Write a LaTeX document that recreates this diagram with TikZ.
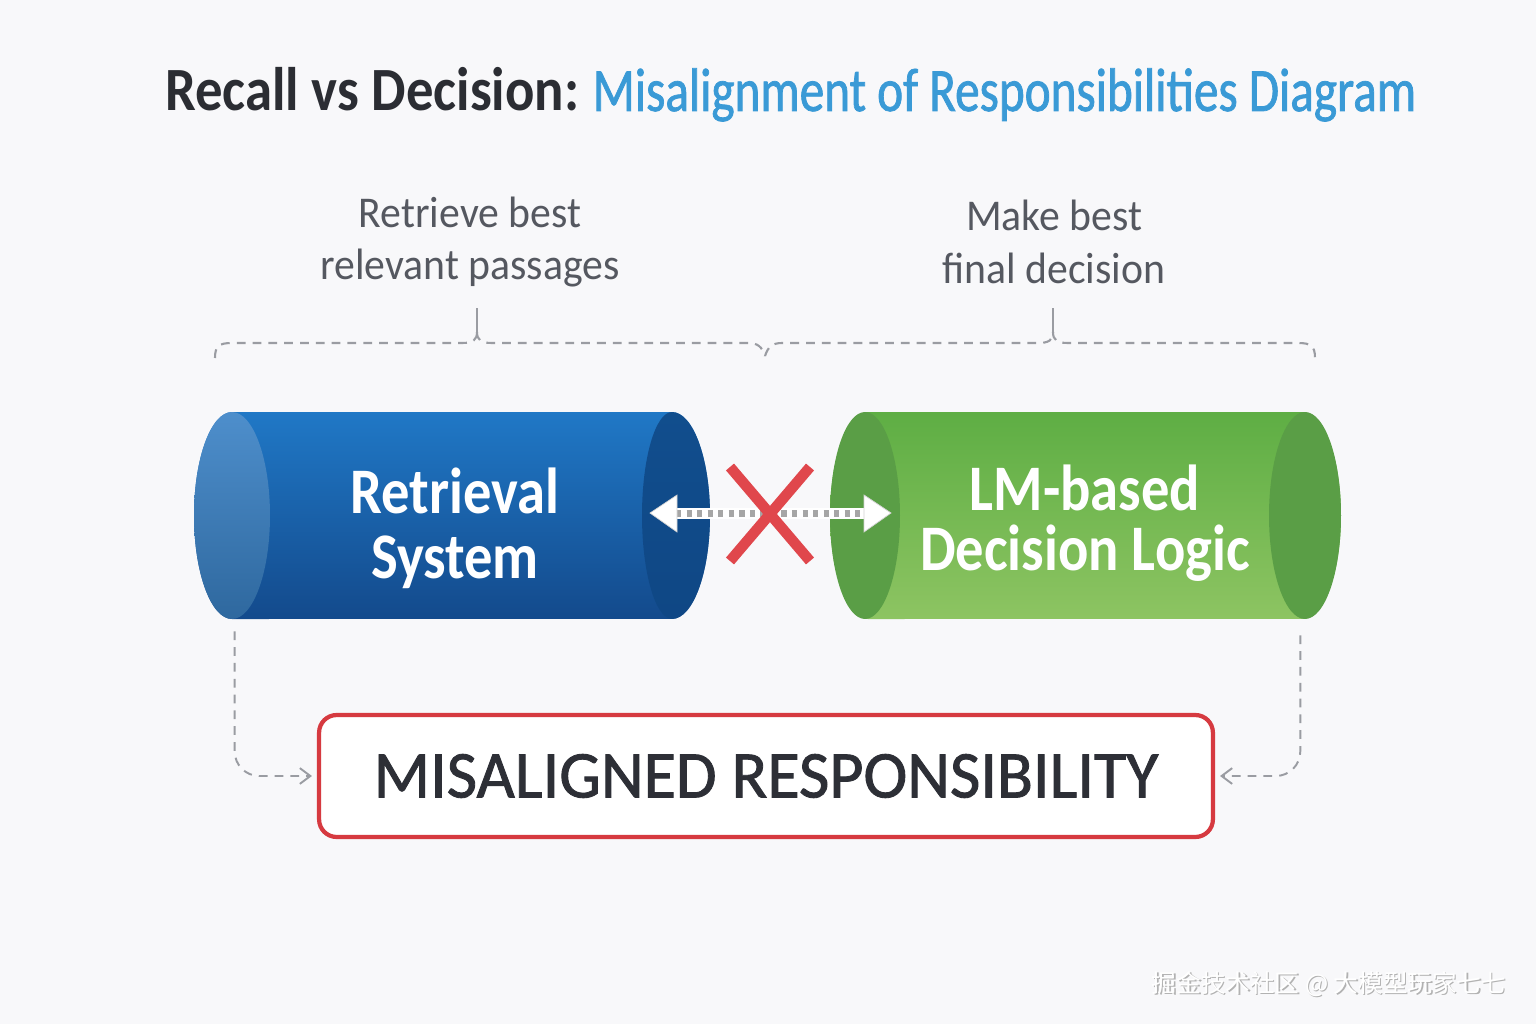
\documentclass[tikz,border=0pt]{standalone}
\usepackage{fontspec}
\setmainfont{Carlito}
\newfontfamily\titlefont[FakeStretch=0.89]{Carlito}
\newfontfamily\titlebluefont[FakeStretch=0.80,FakeBold=1.2]{Carlito}
\newfontfamily\lblfont[FakeStretch=0.95]{Carlito}
\newfontfamily\cylfont[FakeStretch=0.87]{Carlito}
\newfontfamily\misfont[FakeStretch=0.99,FakeBold=1.3]{Carlito}
\newfontfamily\cjkfont{Noto Sans CJK SC}
\usetikzlibrary{arrows.meta}
\definecolor{bgc}{HTML}{F8F8FA}
\definecolor{titledark}{HTML}{2B2D33}
\definecolor{titleblue}{HTML}{3A9AD6}
\definecolor{lblgray}{HTML}{555860}
\definecolor{dashgray}{HTML}{9A9CA2}
\definecolor{bluetop}{HTML}{2078C6}
\definecolor{bluebot}{HTML}{134A8C}
\definecolor{blueface}{HTML}{3A82C6}
\definecolor{blueend}{HTML}{0F4784}
\definecolor{greentop}{HTML}{5EAE44}
\definecolor{greenbot}{HTML}{8DC462}
\definecolor{greenface}{HTML}{5A9E46}
\definecolor{redx}{HTML}{E0474C}
\definecolor{redbox}{HTML}{D63A40}
\definecolor{textdark}{HTML}{2D2F36}
\tikzset{
  lbl/.style={font=\lblfont\fontsize{25}{30}\selectfont, text=lblgray, align=center},
  cyltext/.style={font=\cylfont\bfseries\fontsize{37}{37}\selectfont, text=white, align=center},
  bracepath/.style={draw=dashgray, line width=1.2pt, dash pattern=on 5pt off 4pt},
  connpath/.style={draw=dashgray, line width=1.1pt, dash pattern=on 5pt off 4pt, rounded corners=14pt},
  conntip/.style={-{Straight Barb[length=6pt,width=9pt,line width=1.1pt]}},
  cylframe/.style={minimum width=#1, minimum height=4.14cm, inner sep=0pt},
}
\begin{document}
\begin{tikzpicture}[x=0.02cm,y=-0.02cm]
\fill[bgc] (0,0) rectangle (1536,1024);
\useasboundingbox (0,0) rectangle (1536,1024);

% title
\node[anchor=base west, inner sep=0pt, font=\fontsize{35}{40}\selectfont] (title) at (165,111)
  {\textcolor{titledark}{\titlefont\bfseries Recall vs Decision:}\hspace{0.22em}\textcolor{titleblue}{\titlebluefont Misalignment of Responsibilities Diagram}};

% labels
\node[lbl] (lblL) at (470,242) {Retrieve best\\relevant passages};
\node[lbl] (lblR) at (1054,242) {Make best\\final decision};

% braces
\draw[bracepath] (215,358) .. controls (215,346) and (219,343) .. (232,343) -- (462,343)
   .. controls (473,343) and (477,340) .. (477,332);
\draw[bracepath] (477,332) .. controls (477,340) and (481,343) .. (492,343) -- (748,343)
   .. controls (758,343) and (762,347) .. (765,356);
\draw[bracepath] (765,356) .. controls (768,347) and (772,343) .. (782,343) -- (1038,343)
   .. controls (1049,343) and (1053,340) .. (1053,332);
\draw[bracepath] (1053,332) .. controls (1053,340) and (1057,343) .. (1068,343) -- (1298,343)
   .. controls (1311,343) and (1315,346) .. (1315,358);
\draw[dashgray, line width=1.2pt] (477,332) -- (477,308);
\draw[dashgray, line width=1.2pt] (1053,332) -- (1053,308);

% blue cylinder
\node[cylframe=10.34cm] (ret) at (451.5,515.5) {};
\shade[top color=bluetop, bottom color=bluebot]
  (232,412) -- (672,412) arc[start angle=90, end angle=-90, x radius=0.76cm, y radius=2.07cm]
  -- (232,619) arc[start angle=270, end angle=90, x radius=0.76cm, y radius=2.07cm] -- cycle;
\fill[blueend, opacity=0.85] (672,412) arc[start angle=90, end angle=-90, x radius=0.76cm, y radius=2.07cm]
  arc[start angle=-90, end angle=-270, x radius=0.6cm, y radius=2.07cm] -- cycle;
\shade[top color=blueface!90!white, bottom color=blueface!80!black]
  (232,515.5) ellipse[x radius=0.76cm, y radius=2.07cm];
\node[cyltext] (retT) at (455,528) {Retrieval\\System};

% green cylinder
\node[cylframe=10.22cm] (lm) at (1085.5,515.5) {};
\shade[top color=greentop, bottom color=greenbot]
  (868,412) -- (1303,412) arc[start angle=90, end angle=-90, x radius=0.76cm, y radius=2.07cm]
  -- (868,619) arc[start angle=270, end angle=90, x radius=0.76cm, y radius=2.07cm] -- cycle;
\fill[greenface] (1305,515.5) ellipse[x radius=0.72cm, y radius=2.07cm];
\fill[greenface] (865,515.5) ellipse[x radius=0.7cm, y radius=2.07cm];
\node[cyltext] (lmT) at (1085,523) {LM-based\\[-0.1cm]Decision Logic};

% double arrow between
\coordinate (aL) at (650,513);
\coordinate (aR) at (891,513);
\fill[white] (672,508) rectangle (868,519);
\draw[gray!70, line width=3.5pt, dash pattern=on 3pt off 3pt] (676,513.5) -- (866,513.5);
\fill[white, draw=gray!35, line width=0.4pt] (aL) -- (677,495) -- (677,532) -- cycle;
\fill[white, draw=gray!35, line width=0.4pt] (aR) -- (864,495) -- (864,532) -- cycle;

% red X
\node[minimum size=2cm, inner sep=0pt] (cross) at (770,514) {};
\draw[redx, line width=6pt] (730,467) -- (810,561);
\draw[redx, line width=6pt] (810,467) -- (730,561);

% bottom box
\node[draw=redbox, line width=2.4pt, rounded corners=10pt, fill=white,
      minimum width=17.88cm, minimum height=2.44cm, inner sep=0pt,
      font=\misfont\fontsize{38}{46}\selectfont, text=textdark] (mis) at (766,776) {MISALIGNED RESPONSIBILITY};

% connectors
\draw[connpath, conntip] (ret.south west) ++(42,12) coordinate (cL) |- ([xshift=-0.1cm]mis.west);
\draw[connpath, conntip] (lm.south east) ++(-41,16) coordinate (cR) |- ([xshift=0.1cm]mis.east);

% watermark
\node[font=\cjkfont\fontsize{14}{18}\selectfont, text=gray!60, anchor=center] (wmS) at (1330.5,985.5) {掘金技术社区 @ 大模型玩家七七};
\node[font=\cjkfont\fontsize{14}{18}\selectfont, text=white, anchor=center] (wm) at (1329,984) {掘金技术社区 @ 大模型玩家七七};
\end{tikzpicture}
\end{document}
